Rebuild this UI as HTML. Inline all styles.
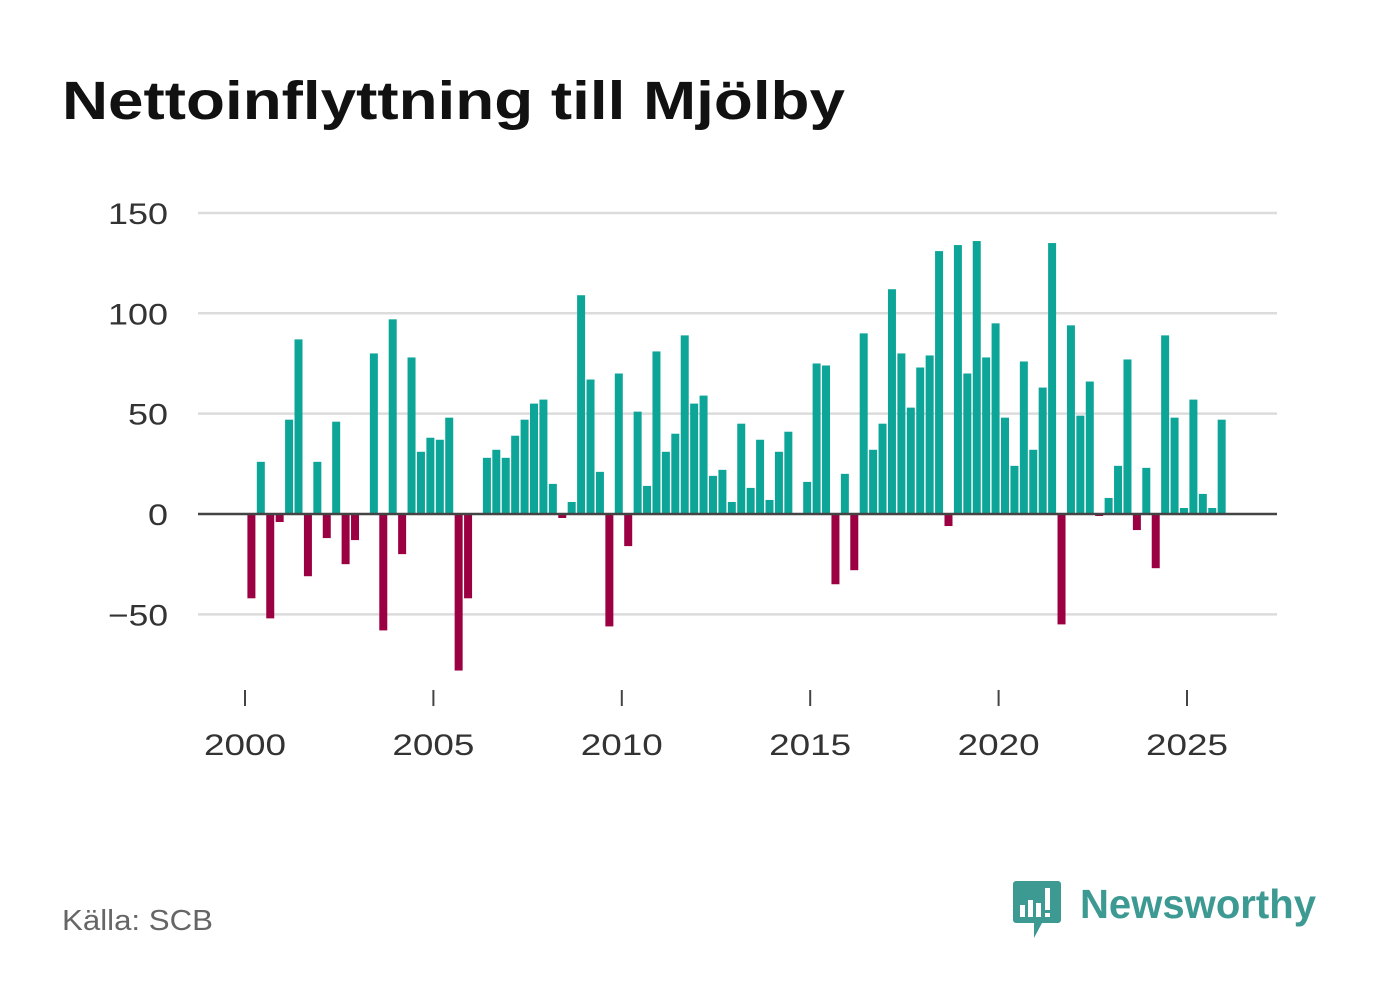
<!DOCTYPE html>
<html><head><meta charset="utf-8">
<style>
body{margin:0;background:#fff;width:1382px;height:999px;overflow:hidden;font-family:"Liberation Sans",sans-serif}
</style></head><body>
<svg width="1382" height="999" xmlns="http://www.w3.org/2000/svg">
<text x="62" y="119" font-size="54" font-weight="bold" fill="#111" textLength="783" lengthAdjust="spacingAndGlyphs">Nettoinflyttning till Mjölby</text>
<g id="grid"></g>
<g id="bars"></g>
<g id="xaxis"></g>
<text x="62" y="930" font-size="29" fill="#666" textLength="151" lengthAdjust="spacingAndGlyphs">Källa: SCB</text>
<g>
<path d="M1016 881 h42 a3 3 0 0 1 3 3 v36 a3 3 0 0 1 -3 3 h-16 l-8 15 v-15 h-18 a3 3 0 0 1 -3 -3 v-36 a3 3 0 0 1 3 -3z" fill="#3d9a92"/>
<rect x="1020" y="905" width="5" height="12" fill="#fff"/><rect x="1028" y="900" width="5" height="17" fill="#fff"/><rect x="1036" y="903" width="5" height="14" fill="#fff"/><rect x="1045" y="888" width="5" height="22" fill="#fff"/><rect x="1045" y="913" width="5" height="4" fill="#fff"/>
<text x="1080" y="918" font-size="41" font-weight="bold" fill="#3d9a92" textLength="236" lengthAdjust="spacingAndGlyphs">Newsworthy</text>
</g>
</svg>
<script>
const startYear=2000;
const values=[-42,26,-52,-4,47,87,-31,26,-12,46,-25,-13,0,80,-58,97,-20,78,31,38,37,48,-78,-42,0,28,32,28,39,47,55,57,15,-2,6,109,67,21,-56,70,-16,51,14,81,31,40,89,55,59,19,22,6,45,13,37,7,31,41,0,16,75,74,-35,20,-28,90,32,45,112,80,53,73,79,131,-6,134,70,136,78,95,48,24,76,32,63,135,-55,94,49,66,-1,8,24,77,-8,23,-27,89,48,3,57,10,3,47];
const yTicks=[150,100,50,0,-50];
const yTickLabels=["150","100","50","0","\u221250"];
const xTicks=[2000,2005,2010,2015,2020,2025];
const NS="http://www.w3.org/2000/svg";
const y=v=>514-v*2.007;
const x=t=>245+(t-2000)*37.68;
function mk(tag,attrs,parent){const e=document.createElementNS(NS,tag);for(const k in attrs)e.setAttribute(k,attrs[k]);parent.appendChild(e);return e;}
const grid=document.getElementById('grid'),bars=document.getElementById('bars'),xa=document.getElementById('xaxis');
yTicks.forEach((t,i)=>{
 if(t!==0){const l=mk('line',{x1:198,x2:1277,y1:y(t),y2:y(t),stroke:'#dcdcdc','stroke-width':2.5},grid);
 
 }
 const lab=yTickLabels[i];
 const tx=mk('text',{x:168,y:y(t)+11,'font-size':30,fill:'#333','text-anchor':'end',textLength:lab.length*20,lengthAdjust:'spacingAndGlyphs'},grid);
 tx.textContent=lab;
 
 
});
values.forEach((v,i)=>{
 const cx=x(startYear+i*0.25+0.17);
 const r=mk('rect',{x:cx-4,y:Math.min(y(v),514),width:8,height:Math.abs(y(v)-514),fill:v>=0?'#0ea599':'#9b0042'},bars);
 
 
});
const z=mk('line',{x1:198,x2:1277,y1:514,y2:514,stroke:'#444','stroke-width':2.5},bars);


xTicks.forEach(t=>{
 const tk=mk('line',{x1:x(t),x2:x(t),y1:690,y2:706,stroke:'#444','stroke-width':2},xa);
 
 
 const tx=mk('text',{x:x(t),y:755,'font-size':30,fill:'#333','text-anchor':'middle',textLength:82,lengthAdjust:'spacingAndGlyphs'},xa);
 tx.textContent=t;
 
 
});
</script>
</body></html>
